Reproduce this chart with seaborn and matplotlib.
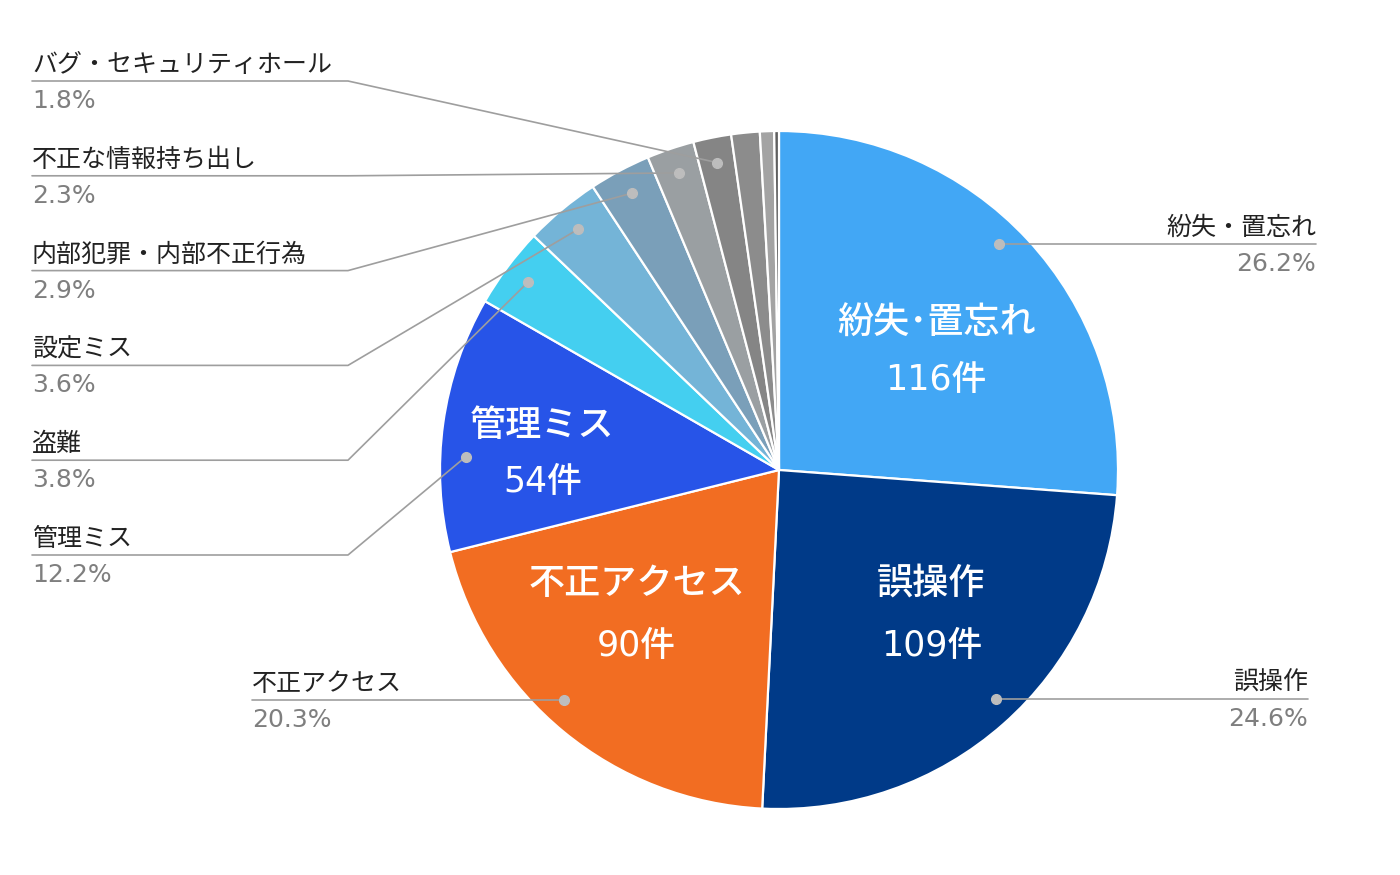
import numpy as np
import seaborn as sns
import matplotlib.pyplot as plt

# ---- data (clockwise from 12 o'clock)
categories = ["紛失・置忘れ", "誤操作", "不正アクセス", "管理ミス", "盗難", "設定ミス",
              "内部犯罪・内部不正行為", "不正な情報持ち出し", "バグ・セキュリティホール",
              "その他A", "その他B", "その他C"]
counts = [116, 109, 90, 54, 17, 16, 13, 10, 8, 6, 3, 1]
colors = ["#42A7F5", "#003A88", "#F26D22", "#2754E8", "#44CFF0", "#74B4D7",
          "#7A9FB9", "#9A9FA2", "#858585", "#8C8C8C", "#A3A3A3", "#5F5F5F"]
inner_names = ["紛失･置忘れ", "誤操作", "不正アクセス", "管理ミス"]

sns.set_theme(style="white")
plt.rcParams["font.family"] = ["Noto Sans CJK JP", "DejaVu Sans"]

W, H = 1400, 875
CX, CY, R = 779, H - 470, 339

fig = plt.figure(figsize=(14, 8.75), dpi=100)
ax = fig.add_axes([0, 0, 1, 1])
wedges, _ = ax.pie(counts, colors=colors, startangle=90, counterclock=False,
                   radius=R, center=(CX, CY),
                   wedgeprops=dict(edgecolor="white", linewidth=1.6))
ax.set_xlim(0, W)
ax.set_ylim(0, H)
ax.set_aspect("equal")
ax.axis("off")

total = sum(counts)
pcts = [f"{100 * c / total:.1f}%" for c in counts]


def polar(w, frac, shift=0.0):
    # shift: degrees clockwise from the wedge's mid angle
    m = np.deg2rad((w.theta1 + w.theta2) / 2 - shift)
    return CX + frac * R * np.cos(m), CY + frac * R * np.sin(m)


# ---- labels inside the four big slices
inner_layout = [(0.58, 6), (0.62, -5), (0.60, 5), (0.70, -4)]
for i, (frac, sh) in enumerate(inner_layout):
    x, y = polar(wedges[i], frac, sh)
    gap = 28 if i in (0, 3) else 31
    ax.text(x, y + gap, inner_names[i], color="white", fontsize=26,
            fontweight="medium", ha="center", va="center")
    ax.text(x, y - gap, f"{counts[i]}件", color="white", fontsize=25,
            fontweight="medium", ha="center", va="center",
            family=["DejaVu Sans", "Noto Sans CJK JP"])

LINE = "#9E9E9E"
DOT = "#BDBDBD"
NAME_C = "#222222"
PCT_C = "#7F7F7F"


def label(x0, x1, ly, name, pct, right=False):
    tx = x1 if right else x0
    ha = "right" if right else "left"
    ax.text(tx, ly + 9, name, color=NAME_C, fontsize=18, ha=ha, va="baseline")
    ax.text(tx, ly - 27, pct, color=PCT_C, fontsize=18, ha=ha, va="baseline",
            family=["DejaVu Sans"])


# ---- left stacked labels with bent leader lines
left_idx = [8, 7, 6, 5, 4, 3]
left_shift = {3: -5.5}
for k, i in enumerate(left_idx):
    ly = H - (81 + 94.8 * k)
    dx, dy = polar(wedges[i], 0.925, left_shift.get(i, 0.0))
    ax.plot([32, 348, dx], [ly, ly, dy], color=LINE, lw=1.2, zorder=3)
    ax.plot(dx, dy, "o", color=DOT, ms=7, zorder=4)
    label(32, 348, ly, categories[i], pcts[i])

# ---- horizontal labels for the big slices
side = [(0, -3.0, 1316, True), (1, -2.0, 1308, True), (2, 3.7, 252, False)]
for i, sh, xe, right in side:
    dx, dy = polar(wedges[i], 0.93, sh)
    ax.plot([dx, xe], [dy, dy], color=LINE, lw=1.2, zorder=3)
    ax.plot(dx, dy, "o", color=DOT, ms=7, zorder=4)
    if right:
        label(dx, xe, dy, categories[i], pcts[i], right=True)
    else:
        label(xe, dx, dy, categories[i], pcts[i])

fig.savefig("out.png", dpi=100, facecolor="white")
